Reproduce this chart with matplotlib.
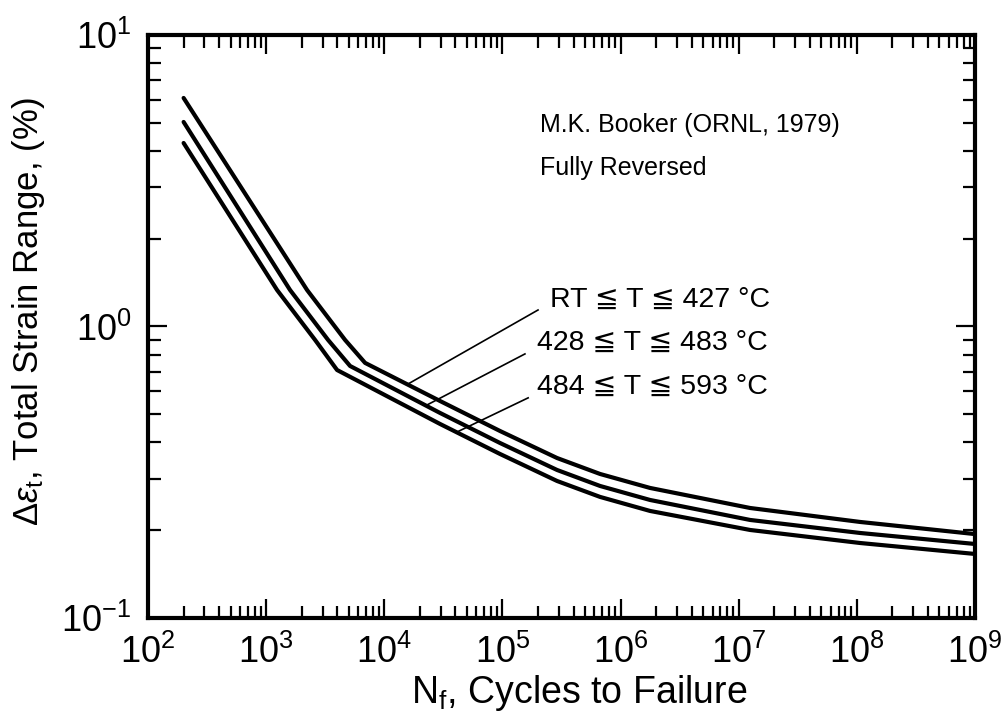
import numpy as np
import matplotlib
matplotlib.use("Agg")
import matplotlib.pyplot as plt
from matplotlib.ticker import LogLocator, FixedLocator, NullFormatter

plt.rcParams['font.family'] = ['Liberation Sans', 'DejaVu Sans']
plt.rcParams['mathtext.fontset'] = 'custom'
plt.rcParams['mathtext.rm'] = 'Liberation Sans'
plt.rcParams['mathtext.it'] = 'Liberation Sans:italic'
plt.rcParams['mathtext.fallback'] = 'stixsans'

# strain range curves (cycles, total strain range %)
n_rt = [200, 2218, 4654, 6874, 29640, 95400, 289700, 669800, 1.774e6, 1.247e7, 1.064e8, 1.0e9]
e_rt = [6.08, 1.334, 0.899, 0.750, 0.555, 0.4379, 0.3538, 0.3119, 0.2793, 0.2384, 0.2135, 0.194]

n_mid = [200, 1592, 3342, 5129, 29640, 95400, 289700, 669800, 1.774e6, 1.247e7, 1.064e8, 1.0e9]
e_mid = [5.03, 1.334, 0.899, 0.732, 0.505, 0.3983, 0.3219, 0.2837, 0.2540, 0.2169, 0.1957, 0.1794]

n_hi = [200, 1236, 2594, 3981, 29640, 95400, 289700, 669800, 1.774e6, 1.247e7, 1.064e8, 1.0e9]
e_hi = [4.26, 1.334, 0.899, 0.709, 0.4629, 0.3652, 0.2951, 0.2602, 0.2329, 0.2004, 0.1808, 0.1658]

labels = ['RT \u2266 T \u2266 427 \u00b0C',
          '428 \u2266 T \u2266 483 \u00b0C',
          '484 \u2266 T \u2266 593 \u00b0C']
# where each leader line touches its curve, and where it meets the label
leader_tip = [(15890, 0.635), (23000, 0.538), (41300, 0.4346)]
leader_tail = [(2.0e5, 1.139), (1.55e5, 0.805), (1.65e5, 0.569)]

x_exp = range(2, 10)
y_exp = [-1, 0, 1]

fig = plt.figure(figsize=(10.03, 7.21), dpi=100)
ax = fig.add_axes([0.1476, 0.1429, 0.8245, 0.8086])

for n, e in [(n_rt, e_rt), (n_mid, e_mid), (n_hi, e_hi)]:
    ax.plot(n, e, color='black', lw=3.0, solid_capstyle='round', solid_joinstyle='round')

ax.set_xscale('log')
ax.set_yscale('log')
ax.set_xlim(1e2, 1e9)
ax.set_ylim(1e-1, 1e1)

ax.xaxis.set_major_locator(FixedLocator([10.0 ** k for k in x_exp]))
ax.yaxis.set_major_locator(FixedLocator([10.0 ** k for k in y_exp]))
ax.xaxis.set_minor_locator(LogLocator(base=10, subs=np.arange(2, 10), numticks=20))
ax.yaxis.set_minor_locator(LogLocator(base=10, subs=np.arange(2, 10), numticks=20))
ax.xaxis.set_minor_formatter(NullFormatter())
ax.yaxis.set_minor_formatter(NullFormatter())
ax.set_xticklabels([f'$\\mathregular{{10^{{{k}}}}}$' for k in x_exp], fontsize=26)
ax.set_yticklabels([f'$\\mathregular{{10^{{{k}}}}}$' for k in y_exp], fontsize=26)

ax.tick_params(which='both', direction='in', top=True, right=True, width=1.6)
ax.tick_params(which='major', length=14, pad=12)
ax.tick_params(which='minor', length=9)
for sp in ax.spines.values():
    sp.set_linewidth(3.0)

ax.set_xlabel('N$_\\mathregular{f}$, Cycles to Failure', fontsize=27)
ax.xaxis.set_label_coords(0.521, -0.095)
ax.set_ylabel('$\\Delta\\epsilon_\\mathregular{t}$, Total Strain Range, (%)', fontsize=25)
ax.yaxis.set_label_coords(-0.122, 0.525)

ax.text(0.474, 0.846, 'M.K. Booker (ORNL, 1979)', transform=ax.transAxes,
        fontsize=18, va='center', ha='left')
ax.text(0.474, 0.772, 'Fully Reversed', transform=ax.transAxes,
        fontsize=18, va='center', ha='left')

label_pos = [(0.486, 0.545), (0.470, 0.472), (0.470, 0.396)]
for lab, (tx, ty), tip, tail in zip(labels, label_pos, leader_tip, leader_tail):
    ax.text(tx, ty, lab, transform=ax.transAxes, fontsize=20.5, va='center', ha='left')
    ax.plot([tip[0], tail[0]], [tip[1], tail[1]], color='black', lw=1.2)

fig.savefig('out.png', dpi=100, facecolor='white')
